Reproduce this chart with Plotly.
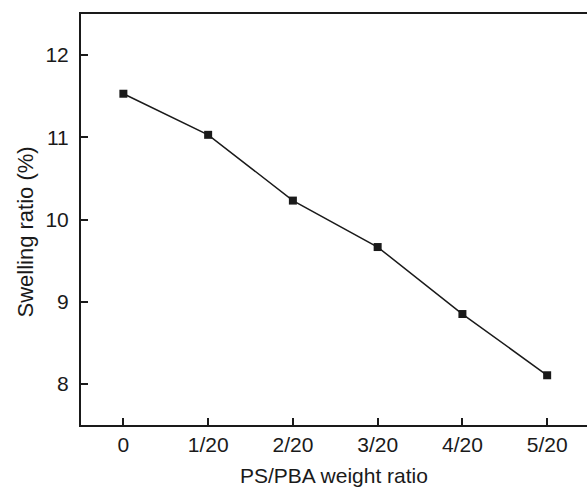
import plotly.graph_objects as go

# PS/PBA weight ratio categories and measured swelling ratio
ratio_labels = ["0", "1/20", "2/20", "3/20", "4/20", "5/20"]
ratio_index = [0, 1, 2, 3, 4, 5]
swelling_ratio = [11.53, 11.03, 10.23, 9.665, 8.85, 8.105]

y_ticks = [8, 9, 10, 11, 12]

FONT = "Liberation Sans, Arial, Helvetica, sans-serif"
INK = "#1a1a1a"

fig = go.Figure()
fig.add_trace(go.Scatter(
    x=ratio_index,
    y=swelling_ratio,
    mode="lines+markers",
    line=dict(color=INK, width=1.5),
    marker=dict(symbol="square", size=8, color=INK),
    showlegend=False,
))

fig.update_layout(
    width=587,
    height=493,
    margin=dict(l=81, r=0, t=14, b=68),
    paper_bgcolor="white",
    plot_bgcolor="white",
    font=dict(family=FONT, size=21, color=INK),
    xaxis=dict(
        range=[-0.5, 5.47],
        tickmode="array",
        tickvals=ratio_index,
        ticktext=ratio_labels,
        ticks="inside",
        ticklen=7,
        tickwidth=1.5,
        tickcolor=INK,
        showline=True,
        linecolor=INK,
        linewidth=2,
        mirror=True,
        showgrid=False,
        zeroline=False,
        ticklabelstandoff=0,
        tickfont=dict(family=FONT, size=21, color=INK),
    ),
    yaxis=dict(
        range=[7.5, 12.5],
        tickmode="array",
        tickvals=y_ticks,
        ticktext=[str(v) for v in y_ticks],
        ticks="inside",
        ticklen=7,
        tickwidth=1.5,
        tickcolor=INK,
        showline=True,
        linecolor=INK,
        linewidth=2,
        mirror=False,
        showgrid=False,
        zeroline=False,
        ticklabelstandoff=6,
        tickfont=dict(family=FONT, size=21, color=INK),
    ),
    annotations=[
        dict(
            text="PS/PBA weight ratio",
            xref="paper", yref="paper",
            x=0.5, y=0,
            xanchor="center", yanchor="middle",
            yshift=-50,
            showarrow=False,
            font=dict(family=FONT, size=21, color=INK),
        ),
        dict(
            text="Swelling ratio (%)",
            xref="paper", yref="paper",
            x=0, y=0.5,
            xanchor="center", yanchor="middle",
            xshift=-56, yshift=-13,
            textangle=-90,
            showarrow=False,
            font=dict(family=FONT, size=22, color=INK),
        ),
    ],
)

fig.write_html("out.html")
